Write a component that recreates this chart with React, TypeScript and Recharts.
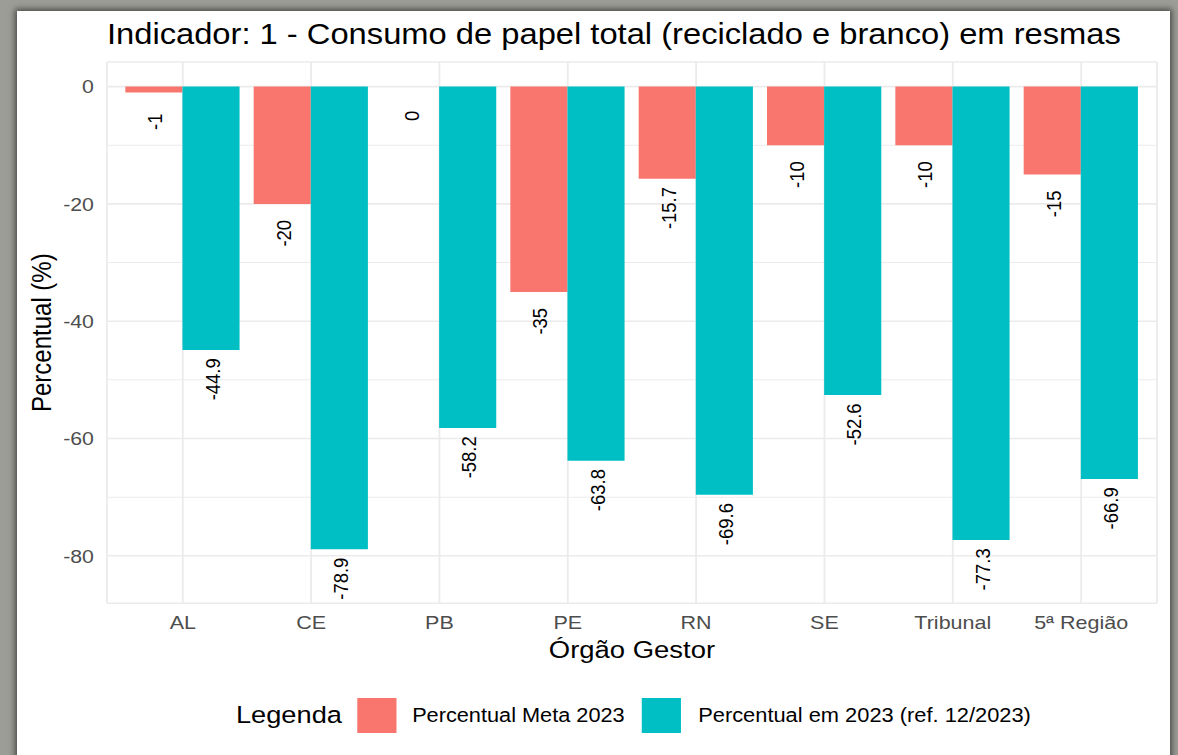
import { Bar, BarChart, CartesianGrid, Label, LabelList, XAxis, YAxis } from "recharts"

const orgaos = ["AL", "CE", "PB", "PE", "RN", "SE", "Tribunal", "5ª Região"]
const meta2023 = [-1, -20, 0, -35, -15.7, -10, -10, -15]
const atual2023 = [-44.9, -78.9, -58.2, -63.8, -69.6, -52.6, -77.3, -66.9]
const majorTicks = [0, -20, -40, -60, -80]
const minorTicks = [-10, -30, -50, -70]

const data = orgaos.map((orgao, i) => ({
  orgao,
  meta: meta2023[i],
  atual: atual2023[i],
}))

// the source picture is stretched sideways a little, so the chart is drawn narrower and scaled
const STRETCH = 1.12
const W = 1178 / STRETCH
const H = 755
const TOP = 62
const PLOT_H = 541.3
const X_AXIS_H = 40
const Y_AXIS_W = 95.5
const LABEL_NUDGE = 5

const RED = "#F8766D"
const TEAL = "#00BFC4"
const GRID = "#EBEBEB"
const FONT = '"Liberation Sans", Arial, sans-serif'

const lowest = Math.min(...meta2023, ...atual2023) - LABEL_NUDGE
const pad = 0.05 * (0 - lowest)
const yDomain: [number, number] = [lowest - pad, pad]
const pxPerUnit = PLOT_H / (yDomain[1] - yDomain[0])

function BarValueLabel(props: any) {
  const vb = props.viewBox && props.viewBox.width !== undefined ? props.viewBox : props
  const { x, y, width, height } = vb
  const cx = x + width / 2 + 1
  // zero bars get a hair-thin height so their label still shows; snap back to the baseline
  const end = props.value === 0 ? Math.min(y, y + height) : Math.max(y, y + height)
  const cy = end + LABEL_NUDGE * pxPerUnit
  return (
    <text
      x={cx}
      y={cy}
      transform={`rotate(-90 ${cx} ${cy})`}
      textAnchor="middle"
      dominantBaseline="central"
      fontSize={18.5}
      fontFamily={FONT}
      fill="#000"
    >
      {props.value}
    </text>
  )
}

export default function App() {
  return (
    <div style={{ position: "absolute", left: 0, top: 0, width: 1178, height: 755, background: "#9d9d97", overflow: "hidden" }}>
      <div
        style={{
          position: "absolute",
          left: 17,
          top: 11,
          width: 1153,
          height: 760,
          background: "#fff",
          boxShadow: "0 0 6px 2px rgba(0,0,0,0.55)",
        }}
      />
      <div style={{ position: "absolute", left: 0, top: 0, width: W, height: H, transform: `scaleX(${STRETCH})`, transformOrigin: "0 0", fontFamily: FONT }}>
        <div style={{ position: "absolute", left: Y_AXIS_W, top: 20, fontSize: 29.2, lineHeight: "29px", color: "#000", whiteSpace: "nowrap" }}>
          Indicador: 1 - Consumo de papel total (reciclado e branco) em resmas
        </div>
        <BarChart
          width={W}
          height={H}
          data={data}
          margin={{ top: TOP, right: W - Y_AXIS_W - 937.5, left: 0, bottom: H - TOP - PLOT_H - X_AXIS_H }}
          barCategoryGap={6}
          barGap={0}
        >
          <CartesianGrid
            vertical={false}
            stroke={GRID}
            strokeWidth={1}
            horizontalCoordinatesGenerator={() => minorTicks.map((v) => TOP + (yDomain[1] - v) * pxPerUnit)}
          />
          <CartesianGrid stroke={GRID} strokeWidth={1.6} />
          <XAxis
            dataKey="orgao"
            interval={0}
            padding={{ left: 10.4, right: 10.4 }}
            tickLine={false}
            axisLine={false}
            tickMargin={6}
            height={X_AXIS_H}
            tick={{ fill: "#4D4D4D", fontSize: 19.2, fontFamily: FONT }}
          >
            <Label
              content={({ viewBox }: any) => (
                <text
                  x={viewBox.x + viewBox.width / 2}
                  y={viewBox.y + 54.7}
                  textAnchor="middle"
                  fontSize={24.5}
                  fontFamily={FONT}
                  fill="#000"
                >
                  Órgão Gestor
                </text>
              )}
            />
          </XAxis>
          <YAxis
            type="number"
            domain={yDomain}
            ticks={majorTicks}
            allowDataOverflow
            tickLine={false}
            axisLine={false}
            tickMargin={5.6}
            width={Y_AXIS_W}
            tick={{ fill: "#4D4D4D", fontSize: 19, fontFamily: FONT }}
          >
            <Label
              content={({ viewBox }: any) => {
                const cx = viewBox.x + 37.5
                const cy = viewBox.y + viewBox.height / 2
                return (
                  <text
                    x={cx}
                    y={cy}
                    transform={`rotate(-90 ${cx} ${cy})`}
                    textAnchor="middle"
                    dominantBaseline="central"
                    fontSize={24}
                    fontFamily={FONT}
                    fill="#000"
                  >
                    Percentual (%)
                  </text>
                )
              }}
            />
          </YAxis>
          <Bar dataKey="meta" fill={RED} minPointSize={0.01} isAnimationActive={false}>
            <LabelList dataKey="meta" content={BarValueLabel} />
          </Bar>
          <Bar dataKey="atual" fill={TEAL} isAnimationActive={false}>
            <LabelList dataKey="atual" content={BarValueLabel} />
          </Bar>
        </BarChart>
        <div
          style={{
            position: "absolute",
            left: 210.7,
            top: 697.5,
            height: 35,
            display: "flex",
            alignItems: "center",
            whiteSpace: "nowrap",
            color: "#000",
          }}
        >
          <span style={{ fontSize: 24.3, marginRight: 13.4 }}>Legenda</span>
          <span style={{ width: 35, height: 35, background: RED, marginRight: 14.3 }} />
          <span style={{ fontSize: 19.4, marginRight: 15.4 }}>Percentual Meta 2023</span>
          <span style={{ width: 35, height: 35, background: TEAL, marginRight: 15.3 }} />
          <span style={{ fontSize: 19.5 }}>Percentual em 2023 (ref. 12/2023)</span>
        </div>
      </div>
    </div>
  )
}
